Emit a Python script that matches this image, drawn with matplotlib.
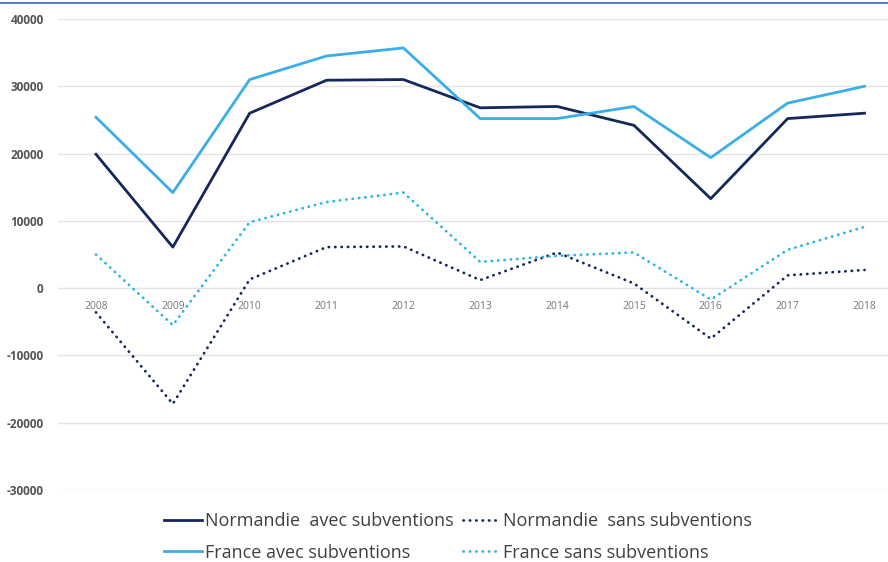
import numpy as np
import matplotlib
matplotlib.use("Agg")
import matplotlib.pyplot as plt
from matplotlib.lines import Line2D

plt.rcParams['font.family'] = ['Open Sans', 'DejaVu Sans']
plt.rcParams['axes.unicode_minus'] = False

# data (euros)
years = ['2008', '2009', '2010', '2011', '2012', '2013', '2014', '2015', '2016', '2017', '2018']
normandie_avec = [19900, 6100, 26000, 30900, 31000, 26800, 27000, 24200, 13300, 25200, 26000]
normandie_sans = [-3600, -17200, 1300, 6100, 6200, 1200, 5300, 700, -7500, 1900, 2700]
france_avec = [25400, 14200, 31000, 34500, 35700, 25200, 25200, 27000, 19400, 27500, 30000]
france_sans = [5000, -5500, 9800, 12800, 14200, 3900, 4800, 5300, -1700, 5700, 9100]

navy = '#14285a'
sky = '#3aaee6'
sky_dot = '#2bb5e8'

fig = plt.figure(figsize=(8.88, 5.62), dpi=100)
ax = fig.add_axes([0.0648, 0.1281, 0.952, 0.8381])

x = np.arange(len(years))
dots = (0, (0.1, 2.2))
ax.plot(x, normandie_avec, color=navy, lw=2.0, label='Normandie  avec subventions')
ax.plot(x, france_avec, color=sky, lw=2.0, label='France avec subventions')
ax.plot(x, normandie_sans, color=navy, lw=2.0, ls=dots, dash_capstyle='round',
        label='Normandie  sans subventions')
ax.plot(x, france_sans, color=sky_dot, lw=2.0, ls=dots, dash_capstyle='round',
        label='France sans subventions')

ax.set_xlim(-0.5, len(years) - 0.5)
ax.set_ylim(-30000, 40000)
ax.set_yticks(np.arange(-30000, 40001, 10000))
ax.set_xticks(x)
ax.set_xticklabels(years)
ax.grid(axis='y', color='#e3e3e3', lw=1.0)
ax.set_axisbelow(True)

for s in ['top', 'right', 'left']:
    ax.spines[s].set_visible(False)
ax.spines['bottom'].set_position(('data', 0))
ax.spines['bottom'].set_visible(False)

ax.tick_params(axis='x', length=0, pad=9, labelsize=7.5, labelcolor='#777777')
ax.tick_params(axis='y', length=0, pad=10, labelsize=8.5, labelcolor='#555555')
for lab in ax.get_yticklabels():
    lab.set_fontweight('bold')

leg = fig.legend(loc='center', bbox_to_anchor=(0.516, 0.0445), ncol=2, frameon=False,
                 fontsize=13, handlelength=2.1, handletextpad=0.15,
                 columnspacing=0.5, labelspacing=0.75)
for t in leg.get_texts():
    t.set_color('#404040')

# thin rule along the top edge
fig.add_artist(Line2D([0, 1], [1 - 2.5 / 562, 1 - 2.5 / 562], color='#3f72d2', lw=1.3,
                      transform=fig.transFigure))

fig.savefig('out.png', dpi=100)
